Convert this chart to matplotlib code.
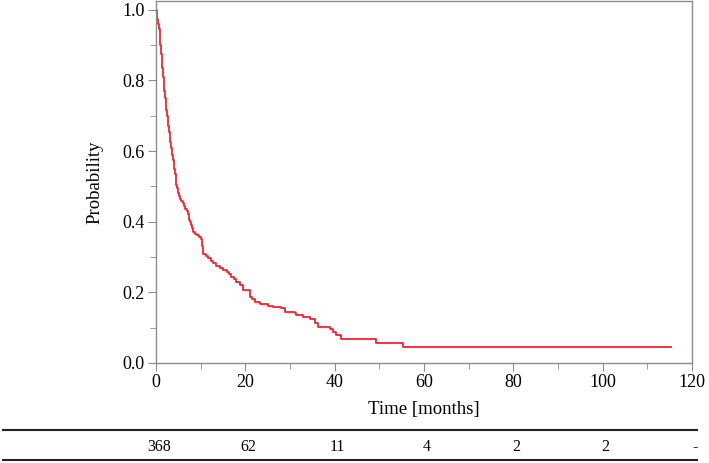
import matplotlib
matplotlib.use("Agg")
import matplotlib.pyplot as plt
import matplotlib.transforms as mtransforms
from matplotlib.lines import Line2D
from matplotlib.ticker import MultipleLocator, FormatStrFormatter

plt.rcParams['font.family'] = ['Liberation Serif', 'DejaVu Serif']

# Kaplan-Meier estimate (months, probability)
times = [0, 0.15, 0.3, 0.45, 0.6, 0.8, 0.95, 1.1, 1.25, 1.4, 1.55, 1.7, 1.85, 2.0,
         2.15, 2.3, 2.45, 2.6, 2.75, 2.9, 3.05, 3.2, 3.35, 3.5, 3.65, 3.8, 3.95,
         4.1, 4.25, 4.4, 4.55, 4.7, 4.9, 5.15, 5.4, 5.7, 6.0, 6.3, 6.6, 6.9, 7.1,
         7.3, 7.5, 7.7, 7.9, 8.1, 8.3, 8.7, 9.1, 9.6, 10.1, 10.4, 10.6, 11.2, 11.7,
         12.3, 12.8, 13.5, 14.3, 15.0, 15.8, 16.4, 16.9, 17.5, 18.0, 18.8, 19.5,
         20.6, 21.0, 21.5, 22.1, 23.2, 25.1, 26.2, 28.1, 28.8, 31.1, 31.4, 32.9,
         34.4, 35.5, 36.3, 38.9, 39.6, 40.4, 41.5, 49.3, 55.3, 115.2]
surv = [1.0, 0.99, 0.975, 0.96, 0.945, 0.925, 0.90, 0.875, 0.855, 0.835, 0.81, 0.79,
        0.77, 0.75, 0.73, 0.715, 0.70, 0.685, 0.67, 0.655, 0.64, 0.625, 0.61, 0.60,
        0.59, 0.575, 0.56, 0.548, 0.535, 0.52, 0.505, 0.495, 0.48, 0.472, 0.465,
        0.458, 0.452, 0.445, 0.437, 0.43, 0.423, 0.415, 0.405, 0.398, 0.39, 0.381,
        0.372, 0.366, 0.362, 0.357, 0.35, 0.33, 0.308, 0.303, 0.298, 0.290, 0.282,
        0.275, 0.268, 0.264, 0.258, 0.251, 0.244, 0.237, 0.230, 0.221, 0.208, 0.207,
        0.188, 0.180, 0.173, 0.167, 0.161, 0.158, 0.155, 0.145, 0.142, 0.136, 0.131,
        0.124, 0.114, 0.103, 0.095, 0.089, 0.079, 0.067, 0.056, 0.044, 0.044]

# number at risk table
risk_times = [0, 20, 40, 60, 80, 100, 120]
risk_labels = ["368", "62", "11", "4", "2", "2", "-"]

fig = plt.figure(figsize=(7.09, 4.63), dpi=100)
ax = fig.add_axes([0.220, 0.216, 0.756, 0.782])
ax.plot(times, surv, drawstyle='steps-post', color='#ff1f2d', lw=1.3)

ax.set_xlim(0, 120)
ax.set_ylim(0, 1.025)
ax.xaxis.set_major_locator(MultipleLocator(20))
ax.xaxis.set_minor_locator(MultipleLocator(10))
ax.yaxis.set_major_locator(MultipleLocator(0.2))
ax.yaxis.set_minor_locator(MultipleLocator(0.1))
ax.yaxis.set_major_formatter(FormatStrFormatter('%.1f'))
for s in ax.spines.values():
    s.set_color('#8c8c8c')
    s.set_linewidth(1.0)
ax.tick_params(which='major', direction='out', length=6, color='#8c8c8c', labelsize=13, pad=2)
ax.tick_params(which='minor', direction='out', length=4, color='#8c8c8c')
ax.set_xlabel("Time [months]", fontsize=13.5, labelpad=7)
ax.set_ylabel("Probability", fontsize=13.5, labelpad=14)

# at-risk table below the plot
trans = mtransforms.blended_transform_factory(ax.transData, fig.transFigure)
for t, lab in zip(risk_times, risk_labels):
    fig.text(t + 0.6, 1 - 447 / 463, lab, transform=trans, ha='center', va='center', fontsize=11.5)
for yy in [430, 460]:
    fig.add_artist(Line2D([3 / 709, 697 / 709], [1 - yy / 463] * 2, transform=fig.transFigure,
                          color='#222222', lw=1.5))

fig.savefig("out.png", dpi=100)
